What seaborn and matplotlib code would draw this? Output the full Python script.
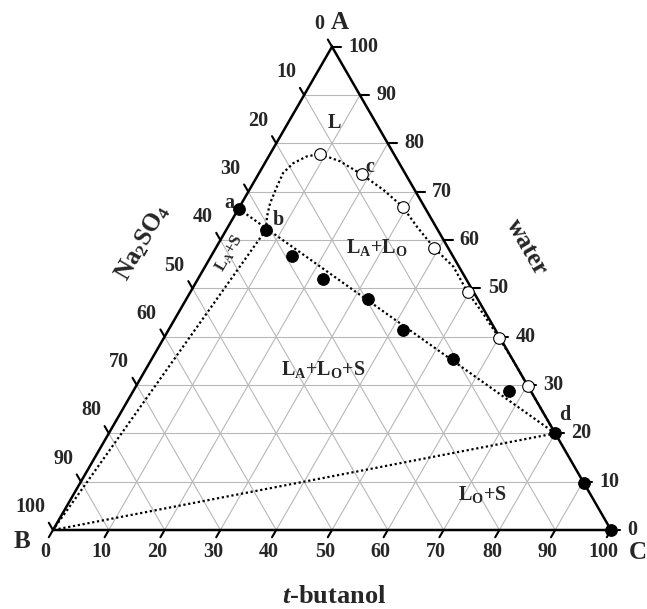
import numpy as np
import pandas as pd
import matplotlib
matplotlib.use("Agg")
import matplotlib.pyplot as plt
import seaborn as sns

# ---------------- data (mass %, t-butanol / water) ----------------
tick_values = [0, 10, 20, 30, 40, 50, 60, 70, 80, 90, 100]

# filled points: tie line a..d and solubility points on the t-butanol-water edge
solid_tb = [0.0, 7.1, 14.4, 22.4, 32.5, 42.0, 53.9, 67.4, 80.0, 90.3, 100.0]
solid_w = [66.5, 62.1, 56.7, 51.9, 47.8, 41.4, 35.4, 28.8, 20.0, 9.7, 0.0]

# open points: binodal curve
open_tb = [8.9, 18.5, 29.2, 39.2, 49.7, 60.0, 70.2]
open_w = [77.8, 73.6, 66.9, 58.3, 49.2, 39.8, 29.8]

# dotted binodal curve from b up and down to d
curve_tb = [7.1, 5.9, 5.1, 4.6, 4.3, 5.1, 6.8, 8.9, 13.3, 18.5, 24.0, 29.2,
            33.8, 39.2, 44.5, 49.7, 55.0, 60.0, 65.0, 70.2, 75.0, 80.0]
curve_w = [62.1, 64.9, 67.6, 71.1, 73.9, 75.9, 77.3, 77.8, 76.3, 73.6, 70.4, 66.9,
           62.8, 58.3, 54.5, 49.2, 44.5, 39.8, 35.0, 29.8, 25.0, 20.0]

# straight dotted boundaries: a-d tie line, b-B, d-B
lines_tb = {"ad": [0.0, 80.0], "bB": [7.1, 0.0], "dB": [80.0, 0.0]}
lines_w = {"ad": [66.5, 20.0], "bB": [62.1, 0.0], "dB": [20.0, 0.0]}

S3 = np.sqrt(3) / 2


def tern(tb, w):
    tb = np.asarray(tb, float)
    w = np.asarray(w, float)
    return tb + w / 2, w * S3


sns.set_theme(style="white")
plt.rcParams["font.family"] = ["Liberation Serif", "DejaVu Serif"]
plt.rcParams["font.weight"] = "bold"
plt.rcParams["mathtext.fontset"] = "custom"
plt.rcParams["mathtext.rm"] = "Liberation Serif:bold"
plt.rcParams["mathtext.it"] = "Liberation Serif:italic:bold"
plt.rcParams["mathtext.bf"] = "Liberation Serif:bold"
plt.rcParams["mathtext.default"] = "rm"

fig = plt.figure(figsize=(6.47, 6.09), dpi=100)
ax = fig.add_axes([0, 0, 1, 1])
ppu = 5.58
ax.set_xlim(-53 / ppu, (647 - 53) / ppu)
ax.set_ylim(-79 / ppu, 530 / ppu)
ax.axis("off")

grid_kw = dict(color="#b8b8b8", lw=0.8, zorder=1)
for v in tick_values[1:-1]:
    x, y = tern([0, 100 - v], [v, v])
    ax.plot(x, y, **grid_kw)
    x, y = tern([v, v], [0, 100 - v])
    ax.plot(x, y, **grid_kw)
    x, y = tern([100 - v, 0], [0, 100 - v])
    ax.plot(x, y, **grid_kw)

# triangle
x, y = tern([0, 100, 0, 0], [0, 0, 100, 0])
ax.plot(x, y, color="black", lw=1.8, zorder=3, solid_joinstyle="miter")

tl = 1.5
fs = 14.5
for v in tick_values:
    # left axis: Na2SO4 (B)
    x, y = tern(0, 100 - v)
    ax.plot([x, x - 0.5 * tl], [y, y + S3 * tl], color="black", lw=1.5, zorder=3)
    ax.text(x - 1.4, y + 4.1, str(v), ha="right", va="center", fontsize=fs, fontweight="bold")
    # bottom axis: t-butanol (C)
    x, y = tern(v, 0)
    ax.plot([x, x - 0.5 * tl], [y, y - S3 * tl], color="black", lw=1.5, zorder=3)
    ax.text(x - 1.3, y - 3.9, str(v), ha="center", va="center", fontsize=fs, fontweight="bold")
    # right axis: water (A)
    x, y = tern(100 - v, v)
    ax.plot([x, x + 1.6], [y, y], color="black", lw=1.5, zorder=3)
    ax.text(x + 2.9, y, str(v), ha="left", va="center", fontsize=fs, fontweight="bold")

dot_kw = dict(color="black", lw=1.6, linestyle=(0, (1, 1.2)), zorder=4)
for key in lines_tb:
    x, y = tern(lines_tb[key], lines_w[key])
    ax.plot(x, y, **dot_kw)
cx, cy = tern(curve_tb, curve_w)
sns.lineplot(x=cx, y=cy, sort=False, estimator=None, ax=ax, **dot_kw)

sx, sy = tern(solid_tb, solid_w)
sns.scatterplot(x=sx, y=sy, ax=ax, s=70, color="black", edgecolor="black", linewidth=0.8, zorder=6)
ox, oy = tern(open_tb, open_w)
sns.scatterplot(x=ox, y=oy, ax=ax, s=70, facecolor="white", edgecolor="black", linewidth=0.8, zorder=6)

# vertex and axis titles
ax.text(51.4, 91.0, "A", ha="center", va="center", fontsize=18, fontweight="bold")
ax.text(-5.6, -2.1, "B", ha="center", va="center", fontsize=18, fontweight="bold")
ax.text(104.8, -4.1, "C", ha="center", va="center", fontsize=18, fontweight="bold")
ax.text(16.1, 51.6, "Na$_2$SO$_4$", ha="center", va="center", fontsize=18,
        fontweight="bold", rotation=60, rotation_mode="anchor")
ax.text(84.9, 50.7, "water", ha="center", va="center", fontsize=18,
        fontweight="bold", rotation=-60, rotation_mode="anchor")
ax.text(50.4, -12.0, "$\\it{t}$-butanol", ha="center", va="center", fontsize=19, fontweight="bold")

# region / point labels
rl = 14.5
ax.text(50.5, 72.9, "L", ha="center", va="center", fontsize=rl, fontweight="bold")
ax.text(56.8, 65.1, "c", ha="center", va="center", fontsize=rl, fontweight="bold")
ax.text(31.7, 58.6, "a", ha="center", va="center", fontsize=rl, fontweight="bold")
ax.text(40.3, 55.6, "b", ha="center", va="center", fontsize=rl, fontweight="bold")
ax.text(91.8, 20.6, "d", ha="center", va="center", fontsize=rl, fontweight="bold")
ax.text(58.1, 50.7, "L$_A$+L$_O$", ha="center", va="center", fontsize=rl, fontweight="bold")
ax.text(31.7, 49.6, "L$_A$+S", ha="center", va="center", fontsize=12, fontweight="bold",
        rotation=60, rotation_mode="anchor")
ax.text(48.4, 28.7, "L$_A$+L$_O$+S", ha="center", va="center", fontsize=rl, fontweight="bold")
ax.text(76.9, 6.3, "L$_O$+S", ha="center", va="center", fontsize=rl, fontweight="bold")

fig.savefig("out.png", dpi=100)
